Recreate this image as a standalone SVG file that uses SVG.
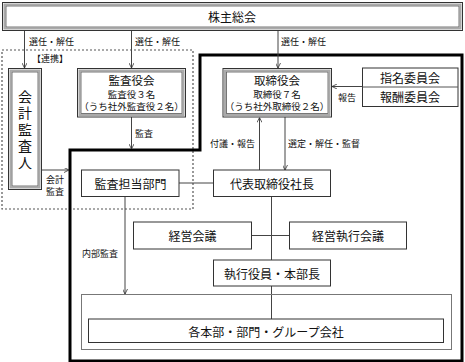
<svg xmlns="http://www.w3.org/2000/svg" width="465" height="362" viewBox="0 0 465 362">
<style>
text{font-family:"Noto Sans CJK JP","Noto Sans CJK SC",sans-serif;fill:#111}
.t{font-size:12px;text-anchor:middle;dominant-baseline:central}
.h{font-size:11.5px;text-anchor:middle;dominant-baseline:central}
.s{font-size:9.5px;text-anchor:middle;dominant-baseline:central}
.v{font-size:14px;writing-mode:vertical-rl;letter-spacing:2.5px}
.l{font-size:9px;dominant-baseline:central}
.b{fill:#fff;stroke:#333;stroke-width:1}
.d1{fill:none;stroke:#aaa;stroke-width:2}
.d2{fill:none;stroke:#555;stroke-width:0.8}
.g{fill:none;stroke:#777;stroke-width:1}
.c{fill:none;stroke:#444;stroke-width:1}
</style>
<defs>
<marker id="a" viewBox="0 0 10 10" refX="10" refY="5" markerWidth="5" markerHeight="5" orient="auto" markerUnits="userSpaceOnUse">
<path d="M0,0 L10,5 L0,10" fill="none" stroke="#333" stroke-width="1.6"/>
</marker>
</defs>
<rect width="465" height="362" fill="#fff"/>
<rect x="2" y="50" width="191" height="159" fill="none" stroke="#555" stroke-width="1.2" stroke-dasharray="2,2"/>
<path d="M200,55 H462 V361 H70 V150 H200 Z" fill="none" stroke="#000" stroke-width="3"/>
<g id="connectors">
<line class="c" x1="24.5" y1="31" x2="24.5" y2="68" marker-end="url(#a)"/>
<line class="c" x1="131.5" y1="31" x2="131.5" y2="68" marker-end="url(#a)"/>
<line class="c" x1="278" y1="31" x2="278" y2="68" marker-end="url(#a)"/>
<line class="c" x1="131.5" y1="117" x2="131.5" y2="149" marker-end="url(#a)"/>
<line class="c" x1="42" y1="170" x2="69" y2="170" marker-end="url(#a)"/>
<line class="c" x1="362.5" y1="86.5" x2="332" y2="86.5" marker-end="url(#a)"/>
<line class="c" x1="259.5" y1="170" x2="259.5" y2="117.5" marker-end="url(#a)"/>
<line class="c" x1="285" y1="117" x2="285" y2="170" marker-end="url(#a)"/>
<line class="c" x1="179" y1="183" x2="213" y2="183"/>
<line class="c" x1="125" y1="196.5" x2="125" y2="294" marker-end="url(#a)"/>
<line class="c" x1="271.5" y1="196.5" x2="271.5" y2="319"/>
<line class="c" x1="251.5" y1="235.5" x2="289.5" y2="235.5"/>
<text class="l" x="29" y="41">選任・解任</text>
<text class="l" x="135" y="41">選任・解任</text>
<text class="l" x="281" y="41">選任・解任</text>
<text class="l" x="135" y="133">監査</text>
<text class="l" x="46" y="179.5">会計<tspan x="46" dy="11.5">監査</tspan></text>
<text class="l" x="338" y="97">報告</text>
<text class="l" x="255" y="143" text-anchor="end">付議・報告</text>
<text class="l" x="288" y="143">選定・解任・監督</text>
<text class="l" x="82" y="253">内部監査</text>
<text class="l" x="32" y="58">【連携】</text>
</g>
<g id="shareholders">
<rect class="b" x="2.5" y="2.5" width="460" height="28"/>
<rect class="d1" x="4.5" y="4.5" width="456" height="24"/>
<rect class="d2" x="6" y="6" width="453" height="21"/>
<text class="t" x="232" y="16">株主総会</text>
</g>
<g id="auditor">
<rect class="b" x="8.5" y="68.5" width="33" height="121"/>
<rect class="d1" x="10.5" y="70.5" width="29" height="117"/>
<rect class="d2" x="12" y="72" width="26" height="114"/>
<text class="v" x="25" y="89.5">会計監査人</text>
</g>
<g id="kansayakukai">
<rect class="b" x="77.5" y="68.5" width="108" height="48.5"/>
<rect class="d1" x="79.5" y="70.5" width="104" height="44.5"/>
<rect class="d2" x="81" y="72" width="101" height="41.5"/>
<text class="h" x="131.5" y="79.5">監査役会</text>
<text class="s" x="131.5" y="93.5">監査役３名</text>
<text class="s" x="131.5" y="106">（うち社外監査役２名）</text>
</g>
<g id="torishimariyakukai">
<rect class="b" x="223" y="68.5" width="108.5" height="48.5"/>
<rect class="d1" x="225" y="70.5" width="104.5" height="44.5"/>
<rect class="d2" x="226.5" y="72" width="101.5" height="41.5"/>
<text class="h" x="277" y="79.5">取締役会</text>
<text class="s" x="277" y="93.5">取締役７名</text>
<text class="s" x="277" y="106">（うち社外取締役２名）</text>
</g>
<g id="committees">
<rect class="b" x="362.5" y="68" width="95.5" height="38.5" stroke="#555"/>
<line x1="362.5" y1="87" x2="458" y2="87" stroke="#555" stroke-width="1"/>
<text class="t" x="410" y="77.5">指名委員会</text>
<text class="t" x="410" y="96.5">報酬委員会</text>
</g>
<g id="kansatanto">
<rect class="b" x="81.5" y="170" width="97.5" height="26.5" stroke="#555"/>
<text class="t" x="130.5" y="183">監査担当部門</text>
</g>
<g id="president">
<rect class="b" x="213.5" y="170" width="117" height="26.5" stroke="#555"/>
<text class="t" x="272" y="183">代表取締役社長</text>
</g>
<g id="keieikaigi">
<rect class="b" x="133.5" y="222" width="118" height="27" stroke="#555"/>
<text class="t" x="192.5" y="235.5">経営会議</text>
</g>
<g id="keieishikkokaigi">
<rect class="b" x="289.5" y="222" width="117" height="27" stroke="#555"/>
<text class="t" x="348" y="235.5">経営執行会議</text>
</g>
<g id="shikkoyakuin">
<rect class="b" x="213.5" y="260" width="117" height="26" stroke="#555"/>
<text class="t" x="272" y="273">執行役員・本部長</text>
</g>
<g id="group">
<rect class="g" x="81.5" y="294.5" width="370" height="55"/>
<rect class="b" x="88.5" y="319" width="355" height="23.5" stroke="#555"/>
<text class="t" x="266" y="331">各本部・部門・グループ会社</text>
</g>
</svg>
